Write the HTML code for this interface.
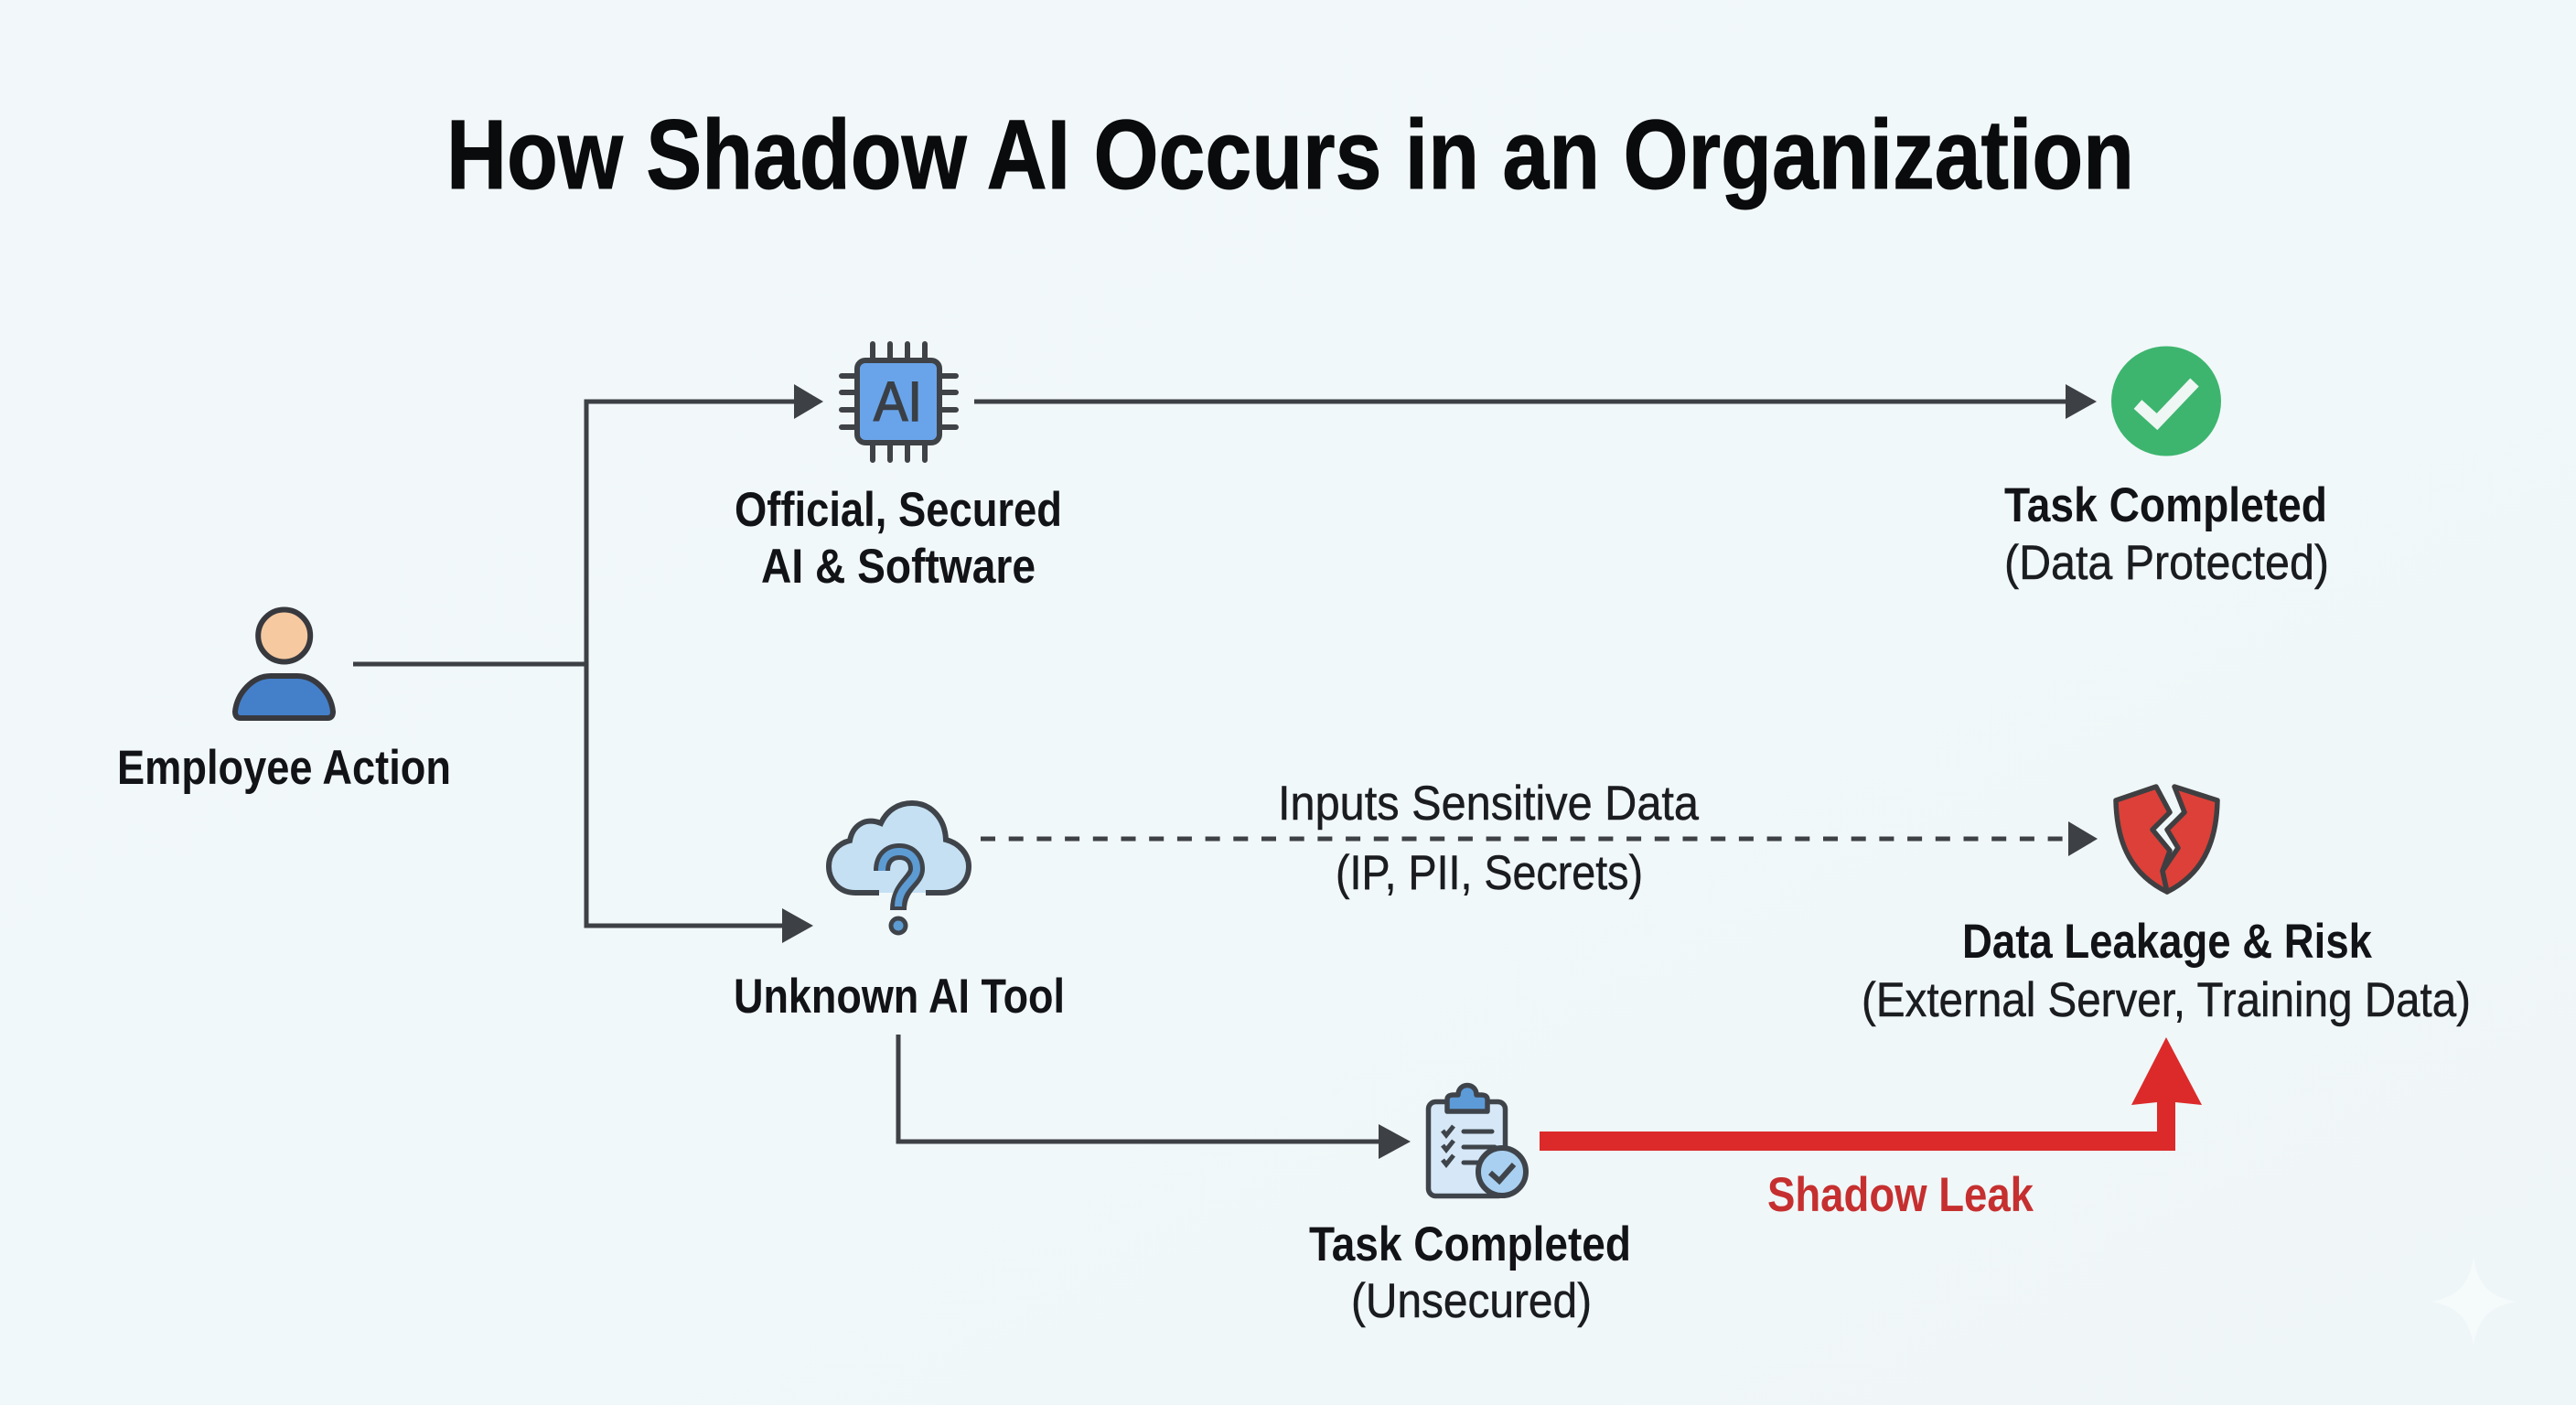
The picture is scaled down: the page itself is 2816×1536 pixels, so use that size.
<!DOCTYPE html>
<html><head><meta charset="utf-8"><title>How Shadow AI Occurs in an Organization</title>
<style>
html,body{margin:0;padding:0;background:#f1f8fa;width:2816px;height:1536px;overflow:hidden}
svg{display:block}
text{font-family:"Liberation Sans",sans-serif;fill:#121316;text-anchor:start}
.b{font-weight:bold;font-size:53px}
.r{font-size:53px;fill:#1a1c20;stroke:#1a1c20;stroke-width:.5px}
</style></head><body>
<svg width="2816" height="1536" viewBox="0 0 2816 1536" xmlns="http://www.w3.org/2000/svg">
<defs><linearGradient id="bg" x1="0" y1="0" x2="1" y2="1"><stop offset="0" stop-color="#f2f8fa"/><stop offset=".5" stop-color="#f1f8f9"/><stop offset="1" stop-color="#eff6f8"/></linearGradient></defs>
<rect width="2816" height="1536" fill="url(#bg)"/>
<path d="M2704,1375 C2709,1405 2722,1418 2751,1423 C2722,1428 2709,1441 2704,1471 C2699,1441 2686,1428 2657,1423 C2686,1418 2699,1405 2704,1375Z" fill="#f5fafb"/>

<text x="488" y="206" font-size="108" font-weight="bold" textLength="1845" lengthAdjust="spacingAndGlyphs" style="fill:#0a0b0d;stroke:#0a0b0d;stroke-width:1px">How Shadow AI Occurs in an Organization</text>

<!-- connectors -->
<g fill="none" stroke="#3d4045" stroke-width="5">
<path d="M386,726 H641"/>
<path d="M870,439 H641 V1012 H858"/>
<path d="M1065,439 H2262"/>
<path d="M982,1131 V1248 H1510"/>
<path d="M1072,917 H2262" stroke-dasharray="16 14.7"/>
</g>
<g fill="#3d4045">
<polygon points="868,420 900,439 868,458"/>
<polygon points="2258,420 2292,439 2258,458"/>
<polygon points="855,993 889,1012 855,1031"/>
<polygon points="2261,898 2293,917 2261,936"/>
<polygon points="1507,1229 1542,1248 1507,1267"/>
</g>
<path d="M1683,1237 H2358 V1205 L2330,1208 L2368,1134 L2407,1208 L2378,1205 V1258 H1683Z" fill="#dc2a2a"/>

<!-- person -->
<circle cx="310.700" cy="695" r="28.500" fill="#f6c9a0" stroke="#37393e" stroke-width="6"/>
<path d="M263,785 Q257,785 257,778 C259,758 276,739 296,739 H325 C345,739 362,758 364,778 Q364,785 358,785Z" fill="#447fc9" stroke="#37393e" stroke-width="6" stroke-linejoin="round"/>

<!-- chip -->
<g stroke="#3f4247" stroke-width="6" fill="none" stroke-linecap="round">
<path d="M954,376 V391 M973,376 V391 M992,376 V391 M1011,376 V391 M954,487 V503 M973,487 V503 M992,487 V503 M1011,487 V503"/>
<path d="M920,411 H936 M920,429 H936 M920,448 H936 M920,467 H936 M1030,411 H1045 M1030,429 H1045 M1030,448 H1045 M1030,467 H1045"/>
</g>
<rect x="937" y="394" width="90" height="90" rx="9" fill="#69a4ea" stroke="#3f4247" stroke-width="6"/>
<text x="955" y="460" font-size="61" textLength="53" lengthAdjust="spacingAndGlyphs" style="fill:#3a3f46;stroke:#3a3f46;stroke-width:1.500px">AI</text>

<!-- check -->
<circle cx="2368" cy="438.500" r="60" fill="#3db56f"/>
<path d="M2337,442 L2358,461 L2399,418" fill="none" stroke="#eef7f3" stroke-width="13"/>

<!-- cloud -->
<path d="M961,976 H935 C915,976 906,960 906,947 C906,933 916,922 929,919 C932,903 945,893 963,900 C970,885 983,878 997,878 C1018,878 1033,895 1034,918 C1049,922 1059,934 1059,947 C1059,963 1047,976 1030,976 H1012" fill="#c5e0f3" stroke="#3f444b" stroke-width="6"/>
<path d="M964,952 C964,938 972,931 983,931 C996,931 1002,940 1002,950 C1002,963 982,968 982,995" fill="none" stroke="#3f444b" stroke-width="18"/>
<path d="M964,952 C964,938 972,931 983,931 C996,931 1002,940 1002,950 C1002,963 982,968 982,991" fill="none" stroke="#5d9bd3" stroke-width="8"/>
<circle cx="982" cy="1012" r="8" fill="#5d9bd3" stroke="#3f444b" stroke-width="5"/>

<!-- shield -->
<g fill="#dd4038" stroke="#3f3f42" stroke-width="5.500" stroke-linejoin="round">
<path d="M2313,875 L2357,860 L2372,888 L2353,907 L2372,930 L2364,952 L2369,975 C2332,957 2314,925 2313,875Z"/>
<path d="M2377,860 L2424,875 C2423,925 2405,957 2369,975 L2364,952 L2381,927 L2369,907 L2388,888Z"/>
</g>

<!-- clipboard -->
<rect x="1561.500" y="1204.500" width="84" height="103" rx="8" fill="#d6e8f7" stroke="#3f444b" stroke-width="5.500"/>
<path d="M1582,1215 V1202 Q1582,1197 1589,1197 H1594 C1594,1183 1614,1183 1614,1197 H1619 Q1626,1197 1626,1202 V1215Z" fill="#5d9bd8" stroke="#3f444b" stroke-width="5.500" stroke-linejoin="round"/>
<g fill="none" stroke="#3f444b" stroke-width="5">
<path d="M1577,1236 L1581,1241 L1589,1231 M1577,1252 L1581,1257 L1589,1247 M1577,1268 L1581,1273 L1589,1263"/>
<path d="M1600,1237 H1631 M1600,1254 H1634 M1600,1271 H1620" stroke-linecap="round"/>
</g>
<circle cx="1642" cy="1281" r="26" fill="#a9d0f0" stroke="#3f444b" stroke-width="6"/>
<path d="M1629,1282 L1639,1291 L1655,1273" fill="none" stroke="#3f444b" stroke-width="6"/>

<!-- labels -->
<text class="b" x="803" y="575" textLength="358" lengthAdjust="spacingAndGlyphs">Official, Secured</text>
<text class="b" x="832" y="637" textLength="300" lengthAdjust="spacingAndGlyphs">AI &amp; Software</text>
<text class="b" x="128" y="857" textLength="365" lengthAdjust="spacingAndGlyphs">Employee Action</text>
<text class="b" x="2191" y="570" textLength="353" lengthAdjust="spacingAndGlyphs">Task Completed</text>
<text class="r" x="2191" y="633" textLength="355" lengthAdjust="spacingAndGlyphs">(Data Protected)</text>
<text class="b" x="802" y="1107" textLength="362" lengthAdjust="spacingAndGlyphs">Unknown AI Tool</text>
<text class="r" x="1397" y="896" textLength="460" lengthAdjust="spacingAndGlyphs">Inputs Sensitive Data</text>
<text class="r" x="1460" y="972" textLength="336" lengthAdjust="spacingAndGlyphs">(IP, PII, Secrets)</text>
<text class="b" x="2145" y="1047" textLength="448" lengthAdjust="spacingAndGlyphs">Data Leakage &amp; Risk</text>
<text class="r" x="2035" y="1111" textLength="666" lengthAdjust="spacingAndGlyphs">(External Server, Training Data)</text>
<text class="b" x="1431" y="1378" textLength="352" lengthAdjust="spacingAndGlyphs">Task Completed</text>
<text class="r" x="1477" y="1440" textLength="263" lengthAdjust="spacingAndGlyphs">(Unsecured)</text>
<text class="b" x="1932" y="1324" textLength="291" lengthAdjust="spacingAndGlyphs" style="fill:#c62f2f">Shadow Leak</text>
</svg>
</body></html>
